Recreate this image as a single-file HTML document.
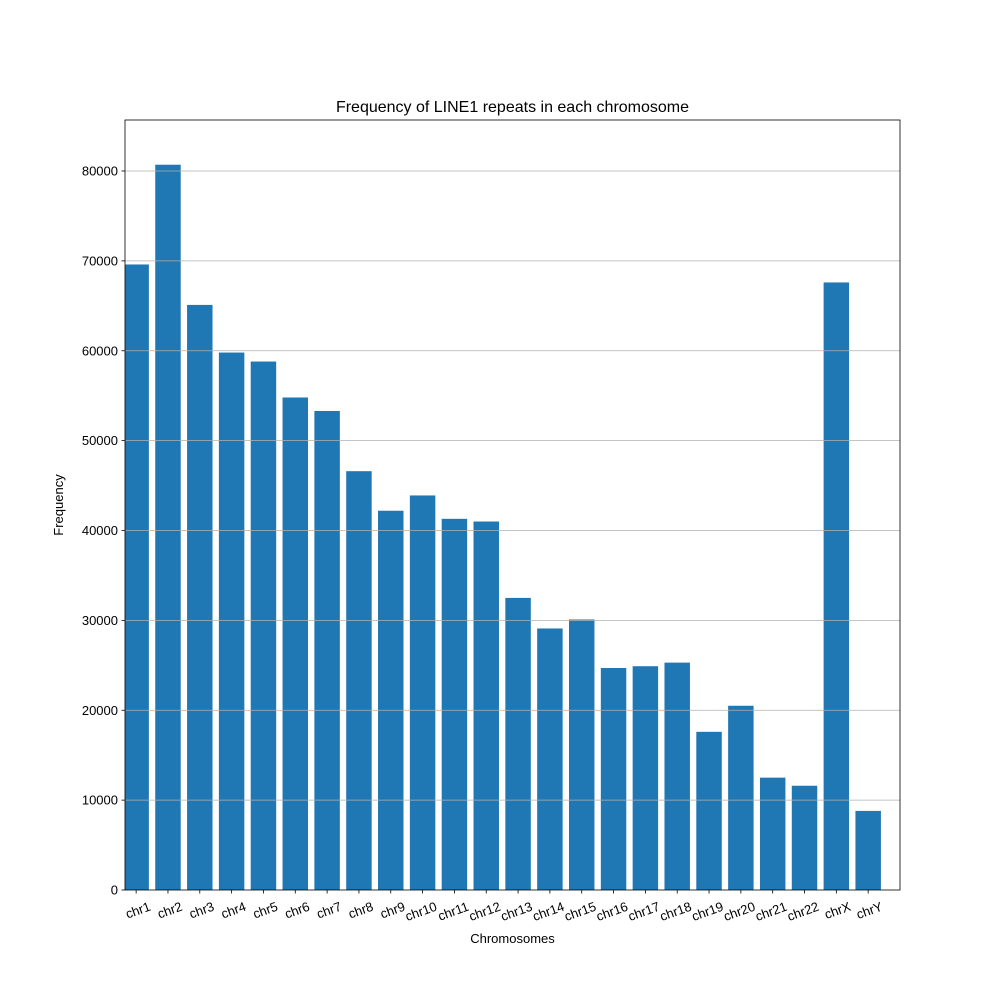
<!DOCTYPE html>
<html><head><meta charset="utf-8"><style>
body{margin:0;background:#fff;}
svg text{font-family:"Liberation Sans","DejaVu Sans",sans-serif;}
</style></head><body>
<svg id="chart" width="1000" height="1000" xmlns="http://www.w3.org/2000/svg"></svg>
<script>
const categories=["chr1","chr2","chr3","chr4","chr5","chr6","chr7","chr8","chr9","chr10","chr11","chr12","chr13","chr14","chr15","chr16","chr17","chr18","chr19","chr20","chr21","chr22","chrX","chrY"];
const values=[69600,80700,65100,59800,58800,54800,53300,46600,42200,43900,41300,41000,32500,29100,30100,24700,24900,25300,17600,20500,12500,11600,67600,8800];
const yTicks=[0,10000,20000,30000,40000,50000,60000,70000,80000];
const NS="http://www.w3.org/2000/svg";
const svg=document.getElementById('chart');
const L=125,R=900,T=120,B=890;
const xmin=-0.35,xmax=24.0,ymax=85675;
const x=v=>L+(v-xmin)/(xmax-xmin)*(R-L);
const y=v=>B-v/ymax*(B-T);
function mk(tag,attrs,name,text){const e=document.createElementNS(NS,tag);for(const k in attrs)e.setAttribute(k,attrs[k]);


if(text!==undefined)e.textContent=text;svg.appendChild(e);return e;}
categories.forEach((c,i)=>{
  const x0=Math.max(L,x(i-0.4));
  mk('rect',{x:x0,y:y(values[i]),width:x(i+0.4)-x0,height:B-y(values[i]),fill:'#1f77b4'},'bar-'+c);
});
yTicks.forEach(t=>{
  if(t>0)mk('line',{x1:L,x2:R,y1:y(t),y2:y(t),stroke:'#b0b0b0','stroke-width':0.8},'grid-line-'+t);
  mk('line',{x1:L-3.5,x2:L,y1:y(t),y2:y(t),stroke:'#000','stroke-width':0.8},'y-tick-'+t);
  mk('text',{x:L-7,y:y(t)+4.5,'text-anchor':'end','font-size':13},'y-tick-label-'+t,String(t));
});
categories.forEach((c,i)=>{
  mk('line',{x1:x(i),x2:x(i),y1:B,y2:B+3.5,stroke:'#000','stroke-width':0.8},'x-tick-'+c);
  const tx=x(i)+12,ty=B+11;
  mk('text',{x:tx,y:ty,'text-anchor':'end','font-size':13,transform:`rotate(-20 ${tx} ${ty})`,'dominant-baseline':'hanging'},'x-tick-label-'+c,c);
});
mk('rect',{x:L,y:T,width:R-L,height:B-T,fill:'none',stroke:'#000','stroke-width':0.8},'plot-frame');
mk('text',{x:(L+R)/2,y:112,'text-anchor':'middle','font-size':16},'chart-title','Frequency of LINE1 repeats in each chromosome');
mk('text',{x:(L+R)/2,y:943,'text-anchor':'middle','font-size':13},'x-axis-title','Chromosomes');
mk('text',{x:63,y:(T+B)/2,'text-anchor':'middle','font-size':13,transform:`rotate(-90 63 ${(T+B)/2})`},'y-axis-title','Frequency');
</script>
</body></html>
